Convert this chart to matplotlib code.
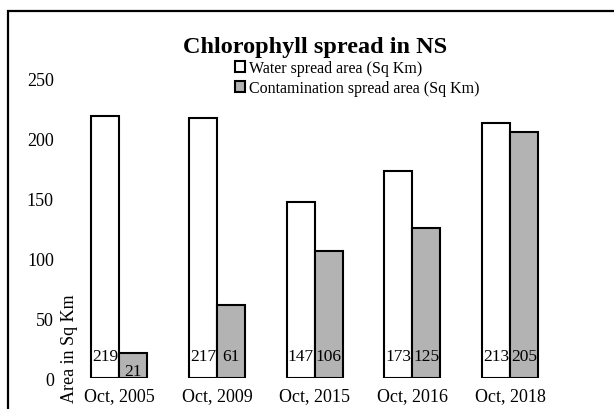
import numpy as np
import matplotlib
matplotlib.use('Agg')
import matplotlib.pyplot as plt
from matplotlib.patches import Rectangle

# DATA
# ----
categories = ['Oct, 2005', 'Oct, 2009', 'Oct, 2015', 'Oct, 2016', 'Oct, 2018']
water_area = [219, 217, 147, 173, 213]
contamination_area = [21, 61, 106, 125, 205]
series_names = ['Water spread area (Sq Km)', 'Contamination spread area (Sq Km)']
y_ticks = [0, 50, 100, 150, 200, 250]

W, H = 614, 410
plt.rcParams['font.family'] = ['Liberation Serif', 'DejaVu Serif']

fig = plt.figure(figsize=(W / 100, H / 100), dpi=100)

# outer chart frame (right/bottom run off the picture)
fig.patches.append(Rectangle((8 / W, -0.1), 1.0, 1.1 - 12 / H, transform=fig.transFigure,
                             fill=False, edgecolor='black', linewidth=1.6))

ax = fig.add_axes([70.5 / W, (H - 379.3) / H, 488.5 / W, 300 / H])
x = np.arange(len(categories))
bw = 0.287

b1 = ax.bar(x - bw / 2, water_area, bw, color='white', edgecolor='black', linewidth=1.5,
            label=series_names[0])
b2 = ax.bar(x + bw / 2, contamination_area, bw, color='#b3b3b3', edgecolor='black', linewidth=1.5,
            label=series_names[1])

# labels sit at the base of each bar (pushed down when the bar is short)
for bars, vals in ((b1, water_area), (b2, contamination_area)):
    for rect, v in zip(bars, vals):
        ax.text(rect.get_x() + rect.get_width() / 2, min(18.5, v - 15), str(v),
                ha='center', va='center', fontsize=12.5)

ax.set_xlim(-0.5, len(categories) - 0.5)
ax.set_ylim(0, 250)
ax.set_yticks(y_ticks)
ax.set_xticks(x)
ax.set_xticklabels(categories)
ax.tick_params(axis='both', length=0, labelsize=13)
ax.tick_params(axis='x', pad=6.5)
ax.tick_params(axis='y', pad=12)
for s in ax.spines.values():
    s.set_visible(False)
ax.patch.set_alpha(0)

fig.text(70 / W, (H - 403) / H, 'Area in Sq Km', rotation=90, ha='center', va='bottom', fontsize=13)
fig.text(315 / W, (H - 47) / H, 'Chlorophyll spread in NS', ha='center', va='center',
         fontsize=17.5, fontweight='bold')

fig.legend(handles=[b1, b2], loc='upper left', bbox_to_anchor=(235 / W, (H - 61) / H),
           frameon=False, fontsize=11.5, handlelength=0.65, handleheight=0.65,
           handletextpad=0.2, labelspacing=0.25, borderpad=0, borderaxespad=0)

fig.savefig('out.png', dpi=100)
